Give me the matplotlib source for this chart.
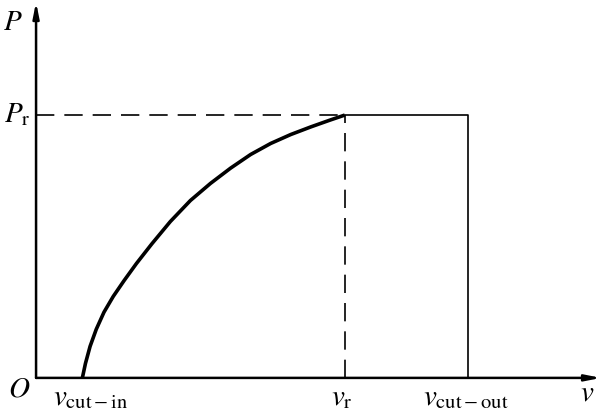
import matplotlib
matplotlib.use("Agg")
import matplotlib.pyplot as plt

plt.rcParams['mathtext.fontset'] = 'stix'
plt.rcParams['font.family'] = ['Liberation Serif', 'DejaVu Serif']

# curva de potencia (unidades arbitrarias)
v_curve = [1.5, 1.6, 1.75, 1.95, 2.2, 2.5, 2.85, 3.25, 3.75, 4.35,
           5.0, 5.65, 6.3, 6.95, 7.6, 8.25, 8.9, 9.5, 10.0]
p_curve = [0.0, 0.055, 0.12, 0.185, 0.25, 0.31, 0.37, 0.435, 0.51, 0.595,
           0.675, 0.74, 0.798, 0.85, 0.892, 0.926, 0.955, 0.98, 1.0]

v_in, v_r, v_out = 1.5, 10.0, 14.0
P_r = 1.0
x_max, y_max = 18.3, 1.43

fig = plt.figure(figsize=(6.01, 4.13), dpi=100)
ax = fig.add_axes([0.06, 0.085, 0.94, 0.91])
ax.set_xlim(0, x_max)
ax.set_ylim(0, y_max)
ax.axis('off')

# ejes con flechas
arrow = dict(arrowstyle='-|>,head_length=0.9,head_width=0.18', color='black', lw=1.8,
             shrinkA=0, shrinkB=0)
ax.annotate('', xy=(x_max, 0), xytext=(0, 0), arrowprops=arrow, annotation_clip=False)
ax.annotate('', xy=(0, y_max), xytext=(0, 0), arrowprops=arrow, annotation_clip=False)

ax.plot(v_curve, p_curve, color='black', lw=2.6, solid_capstyle='butt', solid_joinstyle='round')
ax.plot([0, v_r], [P_r, P_r], color='black', lw=1.2, dashes=(11, 6))
ax.plot([v_r, v_r], [0, P_r], color='black', lw=1.2, dashes=(11, 6))
ax.plot([v_r, v_out, v_out], [P_r, P_r, 0], color='black', lw=1.2)

fs = 21
ax.text(-0.75, 1.35, r'$P$', fontsize=fs, ha='center', va='center')
ax.text(-0.6, P_r, r'$P_{\rm r}$', fontsize=fs, ha='center', va='center')
ax.text(-0.55, -0.045, r'$O$', fontsize=fs, ha='center', va='center')
ax.text(v_in - 0.95, -0.075, r'$v_{\rm cut-in}$', fontsize=fs, ha='left', va='center')
ax.text(v_r - 0.1, -0.075, r'$v_{\rm r}$', fontsize=fs, ha='center', va='center')
ax.text(v_out - 1.45, -0.075, r'$v_{\rm cut-out}$', fontsize=fs, ha='left', va='center')
ax.text(x_max - 0.45, -0.06, r'$v$', fontsize=fs, ha='center', va='center')

fig.savefig("out.png", dpi=100)
